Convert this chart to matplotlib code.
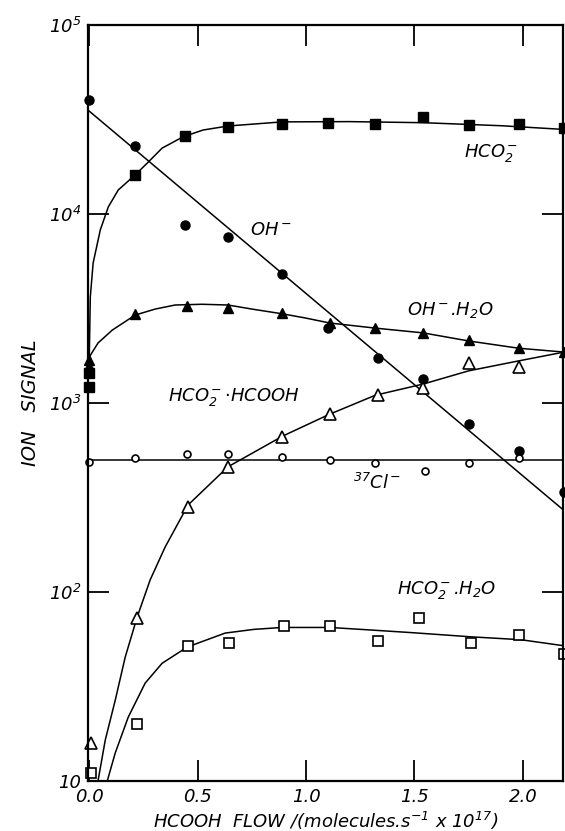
import matplotlib
matplotlib.use("Agg")
import matplotlib.pyplot as plt

plt.rcParams['font.family'] = ['DejaVu Sans']
plt.rcParams['font.style'] = 'italic'
plt.rcParams['mathtext.fontset'] = 'custom'
plt.rcParams['mathtext.rm'] = 'DejaVu Sans:italic'
plt.rcParams['mathtext.it'] = 'DejaVu Sans:italic'

# measured points (HCOOH flow, ion signal)
oh_x = [0.0, 0.21, 0.44, 0.64, 0.89, 1.10, 1.33, 1.54, 1.75, 1.98, 2.19]
oh_y = [40000, 23000, 8700, 7600, 4800, 2500, 1740, 1340, 770, 560, 340]

hco2_x = [0.0, 0.0, 0.21, 0.44, 0.64, 0.89, 1.10, 1.32, 1.54, 1.75, 1.98, 2.19]
hco2_y = [1220, 1450, 16100, 25700, 28900, 30000, 30300, 30000, 32500, 29500, 30000, 28500]

ohw_x = [0.0, 0.0, 0.21, 0.45, 0.64, 0.89, 1.11, 1.32, 1.54, 1.75, 1.98, 2.19]
ohw_y = [1570, 1690, 2950, 3250, 3200, 2990, 2640, 2500, 2350, 2150, 1950, 1860]

dimer_x = [0.01, 0.22, 0.455, 0.64, 0.89, 1.11, 1.33, 1.54, 1.75, 1.98]
dimer_y = [15.9, 73, 281, 460, 660, 870, 1100, 1200, 1630, 1550]

cl_x = [0.0, 0.21, 0.45, 0.64, 0.89, 1.11, 1.32, 1.55, 1.75, 1.98]
cl_y = [490, 510, 540, 540, 520, 500, 480, 435, 480, 510]

hyd_x = [0.01, 0.22, 0.455, 0.645, 0.90, 1.11, 1.33, 1.52, 1.76, 1.98, 2.19]
hyd_y = [11, 20, 52, 54, 66, 66, 55, 73, 54, 59, 47]

# hand-drawn fit curves
oh_fit_x = [0.0, 2.19]
oh_fit_y = [35000, 270]

hco2_fit_x = [0.0, 0.005, 0.018, 0.051, 0.088, 0.134, 0.212, 0.272, 0.336, 0.433,
              0.525, 0.64, 0.89, 1.2, 1.54, 1.9, 2.19]
hco2_fit_y = [1690, 3640, 5500, 8230, 10900, 13400, 16100, 18800, 22300, 25600,
              27800, 29200, 30700, 30800, 30400, 29300, 28000]

ohw_fit_x = [0.0, 0.041, 0.106, 0.212, 0.304, 0.396, 0.52, 0.64, 0.751, 0.894,
             0.995, 1.11, 1.32, 1.54, 1.75, 1.98, 2.19]
ohw_fit_y = [1750, 2080, 2430, 2920, 3140, 3300, 3330, 3300, 3140, 2960,
             2820, 2650, 2490, 2350, 2130, 1950, 1860]

dimer_fit_x = [0.041, 0.074, 0.12, 0.166, 0.221, 0.281, 0.35, 0.456, 0.64, 0.894,
               1.106, 1.32, 1.54, 1.75, 1.98, 2.19]
dimer_fit_y = [10.1, 16.5, 26.8, 45.3, 73.7, 116, 173, 289, 460, 670,
               870, 1100, 1260, 1480, 1670, 1860]

cl_fit_x = [0.0, 2.19]
cl_fit_y = [500, 500]

hyd_fit_x = [0.083, 0.12, 0.18, 0.258, 0.336, 0.452, 0.627, 0.76, 0.89, 1.11,
             1.3, 1.49, 1.76, 1.99, 2.19]
hyd_fit_y = [10, 14.1, 21.8, 33, 42, 51.2, 60.7, 63.5, 65, 65,
             63, 61, 58, 56, 52]

xticks = [0.0, 0.5, 1.0, 1.5, 2.0]
xticklabels = ['0.0', '0.5', '1.0', '1.5', '2.0']
yticks = [10, 100, 1000, 10000, 100000]
yticklabels = ['10', '10$^2$', '10$^3$', '10$^4$', '10$^5$']

fig = plt.figure(figsize=(5.65, 8.31), dpi=100)
ax = fig.add_axes([0.156, 0.060, 0.840, 0.910])
ax.set_yscale('log')

lw = 1.1
ax.plot(oh_fit_x, oh_fit_y, color='black', lw=lw)
ax.plot(hco2_fit_x, hco2_fit_y, color='black', lw=lw)
ax.plot(ohw_fit_x, ohw_fit_y, color='black', lw=lw)
ax.plot(dimer_fit_x, dimer_fit_y, color='black', lw=lw)
ax.plot(cl_fit_x, cl_fit_y, color='black', lw=lw)
ax.plot(hyd_fit_x, hyd_fit_y, color='black', lw=lw)

ax.plot(oh_x, oh_y, 'o', color='black', ms=6.5, clip_on=False)
ax.plot(hco2_x, hco2_y, 's', color='black', ms=6.5, clip_on=False)
ax.plot(ohw_x, ohw_y, '^', color='black', ms=7.5, clip_on=False)
ax.plot(dimer_x, dimer_y, '^', mfc='white', mec='black', mew=1.2, ms=8, clip_on=False)
ax.plot(cl_x, cl_y, 'o', mfc='white', mec='black', mew=1.2, ms=5, clip_on=False)
ax.plot(hyd_x, hyd_y, 's', mfc='white', mec='black', mew=1.2, ms=7, clip_on=False)

ax.set_xlim(-0.005, 2.184)
ax.set_ylim(10, 100000)
ax.set_xticks(xticks)
ax.set_xticklabels(xticklabels)
ax.set_yticks(yticks)
ax.set_yticklabels(yticklabels)
ax.minorticks_off()
ax.tick_params(direction='in', length=15, width=1.3, labelsize=13,
               top=True, right=True, pad=5)
for s in ax.spines.values():
    s.set_linewidth(1.6)

fs = 13
ax.text(1.73, 21000, 'HCO$_2^-$', fontsize=fs, va='center')
ax.text(0.74, 8200, 'OH$^-$', fontsize=fs, va='center')
ax.text(1.465, 3100, 'OH$^-$.H$_2$O', fontsize=fs, va='center')
ax.text(0.364, 1070, 'HCO$_2^-$$\\cdot$HCOOH', fontsize=fs, va='center')
ax.text(1.217, 378, '$^{37}$Cl$^-$', fontsize=fs, va='center')
ax.text(1.42, 103, 'HCO$_2^-$.H$_2$O', fontsize=fs, va='center')

ax.set_xlabel('HCOOH  FLOW /(molecules.s$^{-1}$ x 10$^{17}$)', fontsize=13, labelpad=3)
ax.set_ylabel('ION   SIGNAL', fontsize=14, labelpad=6)

fig.savefig('out.png', dpi=100)
